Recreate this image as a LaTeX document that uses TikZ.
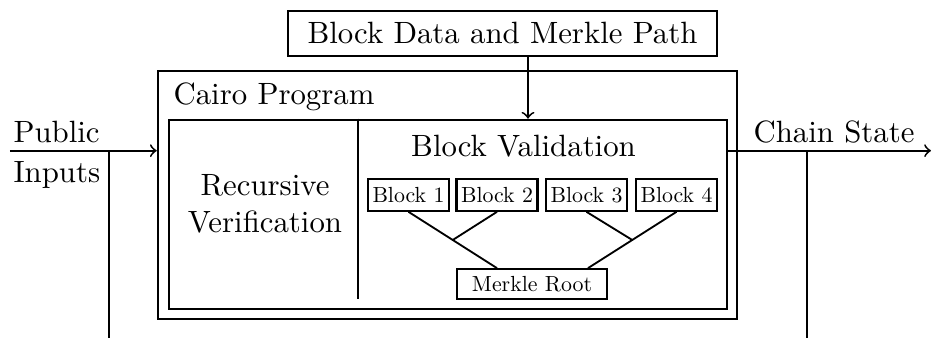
\documentclass[tikz,border=0pt]{standalone}
\usetikzlibrary{calc}

\tikzset{
	box/.style={draw, thick, inner sep=0pt},
	blockbox/.style={draw, thick, scale=0.71, inner sep=2pt, minimum height=14.6pt},
	wire/.style={semithick},
}

\begin{document}
\begin{tikzpicture}[x=0.3247pt, y=-0.3247pt]
			\useasboundingbox (0,0) rectangle (932,338);
			
			% Draw outer boxes.
			\node[box, minimum width=139.3pt, minimum height=14.6pt] (data) at (502.5,33.4) {Block Data and Merkle Path\hspace{4.9pt}};
			\node[box, minimum width=188pt, minimum height=80.5pt] (cairo) at (447.5,195) {};
			\node[box, minimum width=181.2pt, minimum height=61.4pt] (inner) at (448,214.5) {};
			\node[anchor=base west, inner sep=0pt] (cairolabel) at (173,105) {Cairo Program};
			
			% Split the inner box.
			\coordinate (split) at (358,299);
			\draw[wire] (split |- inner.north) -- (split);
			\node[align=center, inner sep=0pt] (recursive) at (265,204) {Recursive\\Verification};
			\node[anchor=base, inner sep=0pt] (validation) at (523.5,157) {Block Validation};
			
			% Draw blocks.
			\foreach \i/\x in {1/408.5, 2/497, 3/586.5, 4/676.5} {
				\node[blockbox] (b\i) at (\x,195) {Block \i};
			}
			\node[blockbox, minimum width=68.6pt, minimum height=13.7pt] (root) at (532,284) {Merkle Root};
			
			% Draw tree edges.
			\coordinate (rl) at ($(root.north)+(-35,0)$);
			\coordinate (rr) at ($(root.north)+(56,0)$);
			\draw[wire] (b1.south) -- (rl);
			\draw[wire] (b2.south) -- ($(b1.south)!0.5!(rl)$);
			\draw[wire] (b4.south) -- (rr);
			\draw[wire] (b3.south) -- ($(b4.south)!0.5!(rr)$);
			
			% Draw inputs and outputs.
			\coordinate (pubin) at (10,150.7);
			\coordinate (pubtap) at (108.7,150.7);
			\coordinate (chainout) at (931,150.7);
			\coordinate (chaintap) at (807,150.7);
			\coordinate (down) at (0,338);
			\coordinate (drop) at (528,0);
			\draw[wire, ->] (pubin) -- (cairo.west |- pubin);
			\draw[wire] (pubtap) -- (pubtap |- down);
			\draw[wire, ->] (inner.east |- chainout) -- (chainout);
			\draw[wire] (chaintap) -- (chaintap |- down);
			\draw[wire, ->] (data.south -| drop) -- (inner.north -| drop);
			
			% Label inputs and outputs.
			\node[anchor=base west, inner sep=0pt] (public) at (13,143) {Public};
			\node[anchor=base west, inner sep=0pt] (inputs) at (13,183) {Inputs};
			\node[anchor=base west, inner sep=0pt] (chain) at (753,143) {Chain State};
			
\end{tikzpicture}
\end{document}
